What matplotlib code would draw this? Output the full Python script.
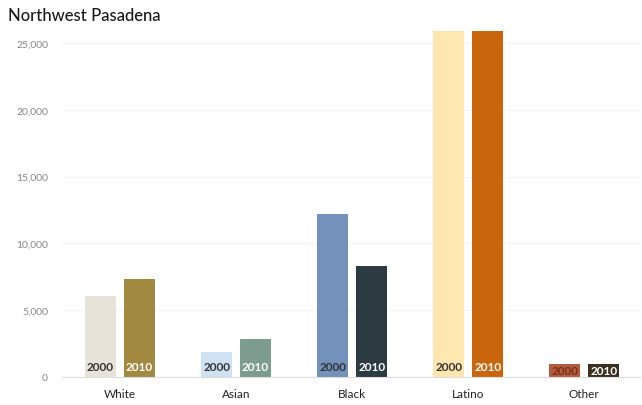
import numpy as np
import matplotlib.pyplot as plt

# data
groups = ["White", "Asian", "Black", "Latino", "Other"]
pop_2000 = [6100, 1850, 12200, 25900, 1000]
pop_2010 = [7300, 2850, 8300, 25900, 1000]
yticks = [0, 5000, 10000, 15000, 20000, 25000]

# colours per group: (2000, 2010)
colors_2000 = ["#e8e3d8", "#cfe2f3", "#7391bb", "#fde7ae", "#b45c3e"]
colors_2010 = ["#a18a3f", "#7c9c8f", "#2c3b41", "#c9660d", "#3b3122"]
text_2000 = ["#333333", "#333333", "#333333", "#333333", "#7a2e18"]
text_2010 = ["white", "white", "white", "white", "white"]

fig = plt.figure(figsize=(6.42, 4.06), dpi=100)
ax = fig.add_axes([62 / 642, 28 / 406, 578 / 642, 350 / 406])

x = np.arange(len(groups))
width = 0.27
off = 0.168

ax.bar(x - off, pop_2000, width, color=colors_2000)
ax.bar(x + off, pop_2010, width, color=colors_2010)

# year labels inside the bottom of the bars
for i in range(len(groups)):
    ax.text(x[i] - off, min(820, pop_2000[i] / 2), "2000", ha="center", va="center",
            fontsize=8.5, fontweight="bold", color=text_2000[i], family="Lato")
    ax.text(x[i] + off, min(820, pop_2010[i] / 2), "2010", ha="center", va="center",
            fontsize=8.5, fontweight="bold", color=text_2010[i], family="Lato")

ax.set_xlim(-0.5, 4.48)
ax.set_ylim(0, 26200)
ax.set_yticks(yticks)
ax.set_yticklabels([f"{v:,}" for v in yticks], fontsize=7.5, color="#888888", family="Lato")
ax.set_xticks(x)
ax.set_xticklabels(groups, fontsize=8.5, color="#222222", family="Lato")
ax.tick_params(length=0, pad=8)
ax.tick_params(axis="y", pad=10)

ax.grid(axis="y", color="#f4f4f4", linewidth=0.8)
ax.set_axisbelow(True)
for s in ["top", "right", "left"]:
    ax.spines[s].set_visible(False)
ax.spines["bottom"].set_color("#dddddd")
ax.spines["bottom"].set_linewidth(0.8)

fig.text(8 / 642, 1 - 16 / 406, "Northwest Pasadena", fontsize=12, color="#1a1a1a",
         va="center", family="Lato", fontweight="medium")

fig.savefig("out.png", dpi=100)
